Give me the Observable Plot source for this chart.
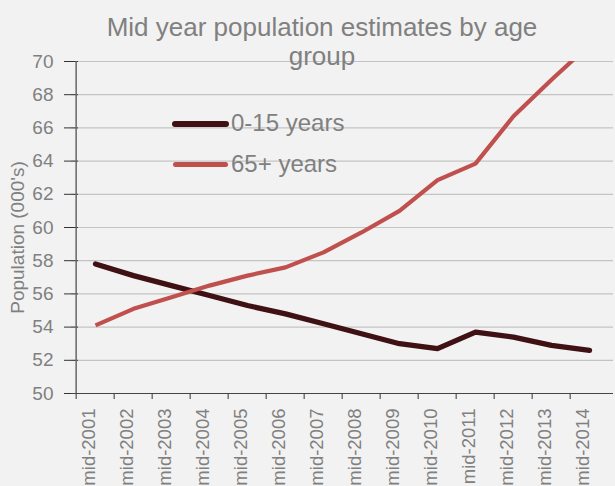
<!DOCTYPE html>
<html>
<head>
<meta charset="utf-8">
<script src="https://cdn.jsdelivr.net/npm/d3@7"></script>
<script src="https://cdn.jsdelivr.net/npm/@observablehq/plot@0.6"></script>
<style>
  html, body { margin: 0; padding: 0; background: #f2f2f2; }
  #wrap { position: relative; width: 615px; height: 486px; font-family: "Liberation Sans", Arial, sans-serif; color: #808080; }
  #title { position: absolute; left: 72px; width: 500px; top: 13px; text-align: center; font-size: 26px; line-height: 29px; color: #808080; pointer-events: none; }
  .leg { position: absolute; left: 0; height: 30px; display: flex; align-items: center; font-size: 24px; color: #808080; }
  .sw { position: absolute; border-radius: 4px; }
</style>
</head>
<body>
<div id="wrap">
  <div id="chart"></div>
  <div id="title">Mid year population estimates by age<br>group</div>
  <div id="legend"></div>
</div>
<script>
const years = ["mid-2001","mid-2002","mid-2003","mid-2004","mid-2005","mid-2006","mid-2007","mid-2008","mid-2009","mid-2010","mid-2011","mid-2012","mid-2013","mid-2014"];
const young = [57.8, 57.1, 56.5, 55.9, 55.3, 54.8, 54.2, 53.6, 53.0, 52.7, 53.7, 53.4, 52.9, 52.6];
const old = [54.1, 55.1, 55.8, 56.5, 57.1, 57.6, 58.5, 59.7, 61.0, 62.85, 63.85, 66.7, 68.9, 71.0];
const yTicks = [50, 52, 54, 56, 58, 60, 62, 64, 66, 68, 70];
const seriesNames = ["0-15 years", "65+ years"];
const seriesColors = ["#3f1014", "#c0504d"];
const seriesWidths = [5.3, 4.2];

const W = 615, H = 486, ML = 71, MR = 2, MT = 61, MB = 93;
const bw = (W - ML - MR) / years.length;

const youngRows = years.map((y, i) => ({year: y, v: young[i]}));
const oldRows = years.map((y, i) => ({year: y, v: old[i]}));

const chart = Plot.plot({
  width: W, height: H,
  marginLeft: ML, marginRight: MR, marginTop: MT, marginBottom: MB,
  style: {background: "#f2f2f2", fontFamily: "'Liberation Sans', Arial, sans-serif", color: "#808080", overflow: "visible"},
  x: {type: "point", domain: years, padding: 0.5, label: null},
  y: {domain: [50, 70], label: null},
  marks: [
    Plot.gridY(yTicks, {stroke: "#c4c4c4", strokeOpacity: 1, strokeWidth: 1.2, x1: null, x2: null}),
    Plot.axisY(yTicks, {tickSize: 7, tickPadding: 11, fontSize: 19, fill: "#808080", stroke: "#333", label: null}),
    Plot.axisY(yTicks, {tickSize: 7, dx: 7, tickFormat: () => "", stroke: "#333", label: null}),
    Plot.axisX(years, {tickSize: 0, tickRotate: -90, tickPadding: 15, dx: -6, fontSize: 18.5, fill: "#808080", label: null}),
    Plot.axisX(years, {tickSize: 6, dx: -bw / 2, tickFormat: () => "", stroke: "#333", label: null}),
    Plot.ruleY([50], {stroke: "#444", strokeWidth: 1.2}),
    Plot.ruleX([years[0]], {dx: -bw / 2, stroke: "#666", strokeWidth: 1.5}),
    Plot.line(youngRows, {x: "year", y: "v", stroke: seriesColors[0], strokeWidth: seriesWidths[0], strokeLinecap: "round", strokeLinejoin: "round", clip: true}),
    Plot.line(oldRows, {x: "year", y: "v", stroke: seriesColors[1], strokeWidth: seriesWidths[1], strokeLinecap: "butt", strokeLinejoin: "round", clip: true}),
    Plot.text(["Population (000's)"], {frameAnchor: "left", rotate: -90, dx: -54, dy: 10, textAnchor: "middle", fontSize: 19, fill: "#808080"})
  ]
});
document.getElementById("chart").appendChild(chart);

// legend
const legend = document.getElementById("legend");
const legPos = [{y: 124, x1: 172, x2: 229}, {y: 164.5, x1: 173, x2: 228}];
seriesNames.forEach((name, i) => {
  const p = legPos[i];
  const sw = document.createElement("div");
  sw.className = "sw";
  const h = seriesWidths[i];
  sw.style.left = p.x1 + "px";
  sw.style.top = (p.y - h / 2) + "px";
  sw.style.width = (p.x2 - p.x1) + "px";
  sw.style.height = h + "px";
  sw.style.background = seriesColors[i];
  legend.appendChild(sw);
  const t = document.createElement("div");
  t.className = "leg";
  t.style.left = "231px";
  t.style.top = (p.y - 15 - 1) + "px";
  t.textContent = name;
  legend.appendChild(t);
});
</script>
</body>
</html>
